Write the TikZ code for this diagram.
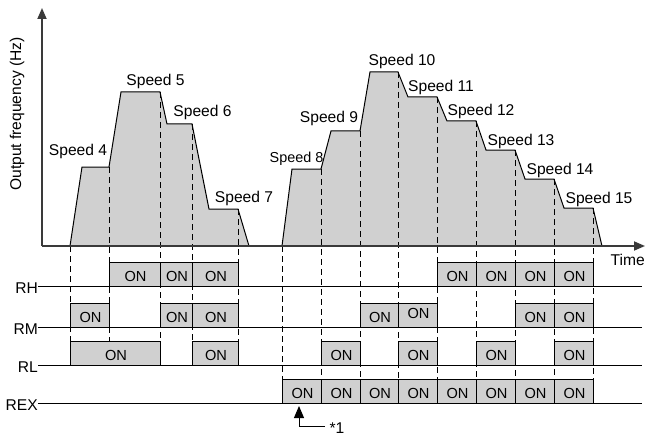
\documentclass[tikz,border=0pt]{standalone}
\usepackage{fontspec}
\setmainfont{Liberation Sans}
\usetikzlibrary{arrows.meta}
\definecolor{fillg}{HTML}{D0D0D0}
\definecolor{axisg}{HTML}{3A3A3A}
\begin{document}
\begin{tikzpicture}[x=1pt,y=-1pt,
  lbl/.style={font=\fontsize{15.6}{17}\selectfont, inner sep=0pt},
  smalllbl/.style={font=\fontsize{14.4}{16}\selectfont, inner sep=0pt},
  onbox/.style={draw=black, fill=fillg, line width=1pt},
  ontext/.style={font=\fontsize{14.6}{16}\selectfont, inner sep=0pt},
  sig/.style={line width=1pt, draw=black},
  guide/.style={dash pattern=on 6pt off 4pt, line width=0.9pt, draw=black},
  axisline/.style={line width=1.8pt, draw=axisg, -{Triangle[length=11pt,width=9pt]}},
  profile/.style={fill=fillg, draw=black, line width=1pt, line join=miter}]
\useasboundingbox (0,0) rectangle (646,436);

% speed profiles
\filldraw[profile] (70,246) -- (82,167) -- (109,167) -- (121,92) -- (160,92) -- (167,124)
  -- (192,124) -- (209,209) -- (238,209) -- (249,246) -- cycle;
\filldraw[profile] (282,246) -- (292,169) -- (321,169) -- (331,131) -- (360,131) -- (370,72)
  -- (398,72) -- (408,97) -- (437,97) -- (447,121) -- (476,121) -- (486,150) -- (515,150)
  -- (525,179) -- (554,179) -- (564,208) -- (593,208) -- (602,246) -- cycle;

% guide lines
\foreach \x/\y in {70/246,109/167,160/92,192/124,238/209}
  \draw[guide] (\x,\y) -- (\x,341);
\foreach \x/\y in {282/246,321/169,360/131,398/72,437/97,476/121,515/150,554/179,593/208}
  \draw[guide] (\x,\y) -- (\x,379);

% axes
\coordinate (origin) at (42,246);
\coordinate (ytip) at (42,8);
\coordinate (xtip) at (645,246);
\draw[axisline] (origin) -- (ytip);
\draw[axisline] (origin) -- (xtip);

% signal lines
\foreach \n/\y in {RH/286,RM/327,RL/365,REX/403}{
  \node[lbl, anchor=east] (lab\n) at (38,\y+2) {\n};
  \coordinate (end\n) at (642,\y);
  \draw[sig] (lab\n.east |- end\n) -- (end\n);
}

% ON boxes
\foreach \a/\b/\n in {109/160/rhA,160/192/rhB,192/238/rhC,437/476/rhD,476/515/rhE,515/554/rhF,554/593/rhG}{
  \draw[onbox] (\a,262) rectangle (\b,286);
  \node[ontext] (\n) at ({(\a+\b)/2+1},276) {ON};
}
\foreach \a/\b/\n/\t in {70/109/rmA/317.5,160/192/rmB/317.5,192/238/rmC/317.5,360/398/rmD/317.5,398/437/rmE/313.5,515/554/rmF/317.5,554/593/rmG/317.5}{
  \draw[onbox] (\a,303) rectangle (\b,327);
  \node[ontext] (\n) at ({(\a+\b)/2+1},\t) {ON};
}
\foreach \a/\b/\n in {70/160/rlA,192/238/rlB,321/360/rlC,398/437/rlD,476/515/rlE,554/593/rlF}{
  \draw[onbox] (\a,341) rectangle (\b,365);
  \node[ontext] (\n) at ({(\a+\b)/2+1},355) {ON};
}
\foreach \a/\b/\n in {282/321/rxA,321/360/rxB,360/398/rxC,398/437/rxD,437/476/rxE,476/515/rxF,515/554/rxG,554/593/rxH}{
  \draw[onbox] (\a,379) rectangle (\b,403);
  \node[ontext] (\n) at ({(\a+\b)/2+1},393) {ON};
}

% speed labels
\node[lbl, anchor=base] (s4) at (78,156) {Speed 4};
\node[lbl, anchor=base] (s5) at (155.5,86) {Speed 5};
\node[lbl, anchor=base] (s6) at (202.5,117) {Speed 6};
\node[lbl, anchor=base] (s7) at (244,202) {Speed 7};
\node[smalllbl, anchor=base] (s8) at (296.5,162) {Speed 8};
\node[lbl, anchor=base] (s9) at (329,122) {Speed 9};
\node[lbl, anchor=base] (s10) at (402,66) {Speed 10};
\node[lbl, anchor=base] (s11) at (441,92) {Speed 11};
\node[lbl, anchor=base] (s12) at (481,115) {Speed 12};
\node[lbl, anchor=base] (s13) at (521,146) {Speed 13};
\node[lbl, anchor=base] (s14) at (560,175) {Speed 14};
\node[lbl, anchor=base] (s15) at (599,203) {Speed 15};

% axis labels
\node[lbl, rotate=90] (ylab) at (17,114) {Output frequency (Hz)};
\node[lbl, anchor=base east] (tlab) at (645,265) {Time};

% note *1
\node[lbl] (note) at (337,428) {*1};
\coordinate (nA) at (299,426);
\coordinate (nB) at (325,426);
\coordinate (nTip) at (299,406);
\draw[line width=1pt, -{Triangle[length=12pt,width=10pt]}] (nB) -- (nA) -- (nTip);
\end{tikzpicture}
\end{document}
